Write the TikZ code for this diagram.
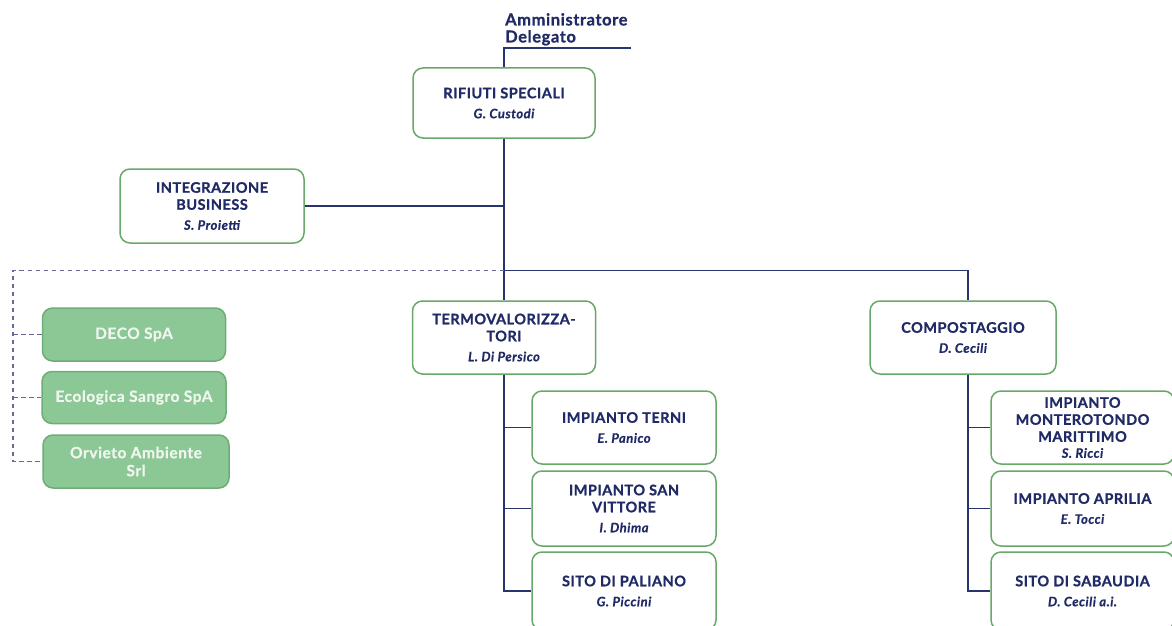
\documentclass[tikz,border=0pt]{standalone}
\usepackage{fontspec}
\setmainfont{Lato}
\newfontfamily\boxfont[LetterSpace=3.5,BoldFeatures={FakeBold=0.8}]{Lato}
\newfontfamily\namefont[LetterSpace=4,BoldItalicFeatures={FakeBold=0.5}]{Lato}
\begin{document}
\begin{tikzpicture}[x=1pt,y=-1pt,
  box/.style={draw=boxgreen,line width=1.5pt,rounded corners=10pt,fill=white,align=center,
    text=navy,font=\boxfont\fontsize{14.5}{17}\selectfont\bfseries,inner sep=1pt},
  sub/.style={box,fill=subfill,draw=subborder,text=subtext,font=\boxfont\fontsize{15.5}{18}\selectfont\bfseries},
  conn/.style={draw=linenavy,line width=1.2pt},
  dconn/.style={draw=dashgray,line width=1.1pt,dash pattern=on 4.5pt off 3.5pt}]
\definecolor{boxgreen}{RGB}{105,168,105}
\definecolor{navy}{RGB}{32,42,102}
\definecolor{linenavy}{RGB}{40,52,110}
\definecolor{subfill}{RGB}{140,199,150}
\definecolor{subborder}{RGB}{112,172,118}
\definecolor{subtext}{RGB}{238,246,238}
\definecolor{dashgray}{RGB}{100,105,150}
\useasboundingbox (0,0) rectangle (1172,626);
\newcommand{\who}[1]{\\[3pt]{\namefont\fontsize{13}{15}\selectfont\bfseries\itshape #1}}

% nodes
\node[anchor=north west,align=left,text=navy,font=\boxfont\fontsize{16.5}{17}\selectfont\bfseries,inner sep=0pt] (ad) at (505,13) {Amministratore\\Delegato};
\node[box,minimum width=182pt,minimum height=70pt] (rs) at (504,103) {RIFIUTI SPECIALI\who{G. Custodi}};
\node[box,minimum width=184pt,minimum height=74pt] (ib) at (212,206) {INTEGRAZIONE\\BUSINESS\who{S. Proietti}};
\node[box,minimum width=183pt,minimum height=73pt] (termo) at (504,337.5) {TERMOVALORIZZA-\\TORI\who{L. Di Persico}};
\node[box,minimum width=186pt,minimum height=73pt] (comp) at (963,337.5) {COMPOSTAGGIO\who{D. Cecili}};

\node[sub,minimum width=183pt,minimum height=53pt] (deco) at (134,334.5) {DECO SpA};
\node[sub,minimum width=184pt,minimum height=52pt] (eco) at (134,397.5) {Ecologica Sangro SpA};
\node[sub,minimum width=186pt,minimum height=53pt] (orv) at (136,461.5) {Orvieto Ambiente\\Srl};

\node[box,minimum width=184pt,minimum height=73pt] (terni) at (624,427.5) {IMPIANTO TERNI\who{E. Panico}};
\node[box,minimum width=184pt,minimum height=75pt] (sanv) at (624,508.5) {IMPIANTO SAN\\VITTORE\who{I. Dhima}};
\node[box,minimum width=184pt,minimum height=78pt] (pal) at (624,591) {SITO DI PALIANO\who{G. Piccini}};

\node[box,minimum width=183pt,minimum height=73pt] (mont) at (1082.5,427.5) {IMPIANTO\\MONTEROTONDO\\MARITTIMO\\[-1pt]{\namefont\fontsize{13}{15}\selectfont\bfseries\itshape S. Ricci}};
\node[box,minimum width=183pt,minimum height=75pt] (apr) at (1082.5,508.5) {IMPIANTO APRILIA\who{E. Tocci}};
\node[box,minimum width=183pt,minimum height=78pt] (sab) at (1082.5,591) {SITO DI SABAUDIA\who{D. Cecili a.i.}};

% coordinates
\coordinate (adL) at (504,48);
\coordinate (adR) at (631,48);
\coordinate (j) at (504,270.5);
\coordinate (dl) at (13,270.5);
\coordinate (ct) at (968,270.5);

% connectors
\draw[conn] (adR) -- (adL) -- (adL |- rs.north);
\draw[conn] (adL |- rs.south) -- (adL |- termo.north);
\draw[conn] (ib.east) -- (ib.east -| adL);
\draw[conn] (j) -- (ct) -- (ct |- comp.north);
\draw[conn] (adL |- termo.south) |- (pal.west);
\draw[conn] (adL |- terni.west) -- (terni.west);
\draw[conn] (adL |- sanv.west) -- (sanv.west);
\draw[conn] (ct |- comp.south) |- (sab.west);
\draw[conn] (ct |- mont.west) -- (mont.west);
\draw[conn] (ct |- apr.west) -- (apr.west);

\draw[dconn] (j) -- (dl) |- (orv.west);
\draw[dconn] (dl |- deco.west) -- (deco.west);
\draw[dconn] (dl |- eco.west) -- (eco.west);
\end{tikzpicture}
\end{document}
